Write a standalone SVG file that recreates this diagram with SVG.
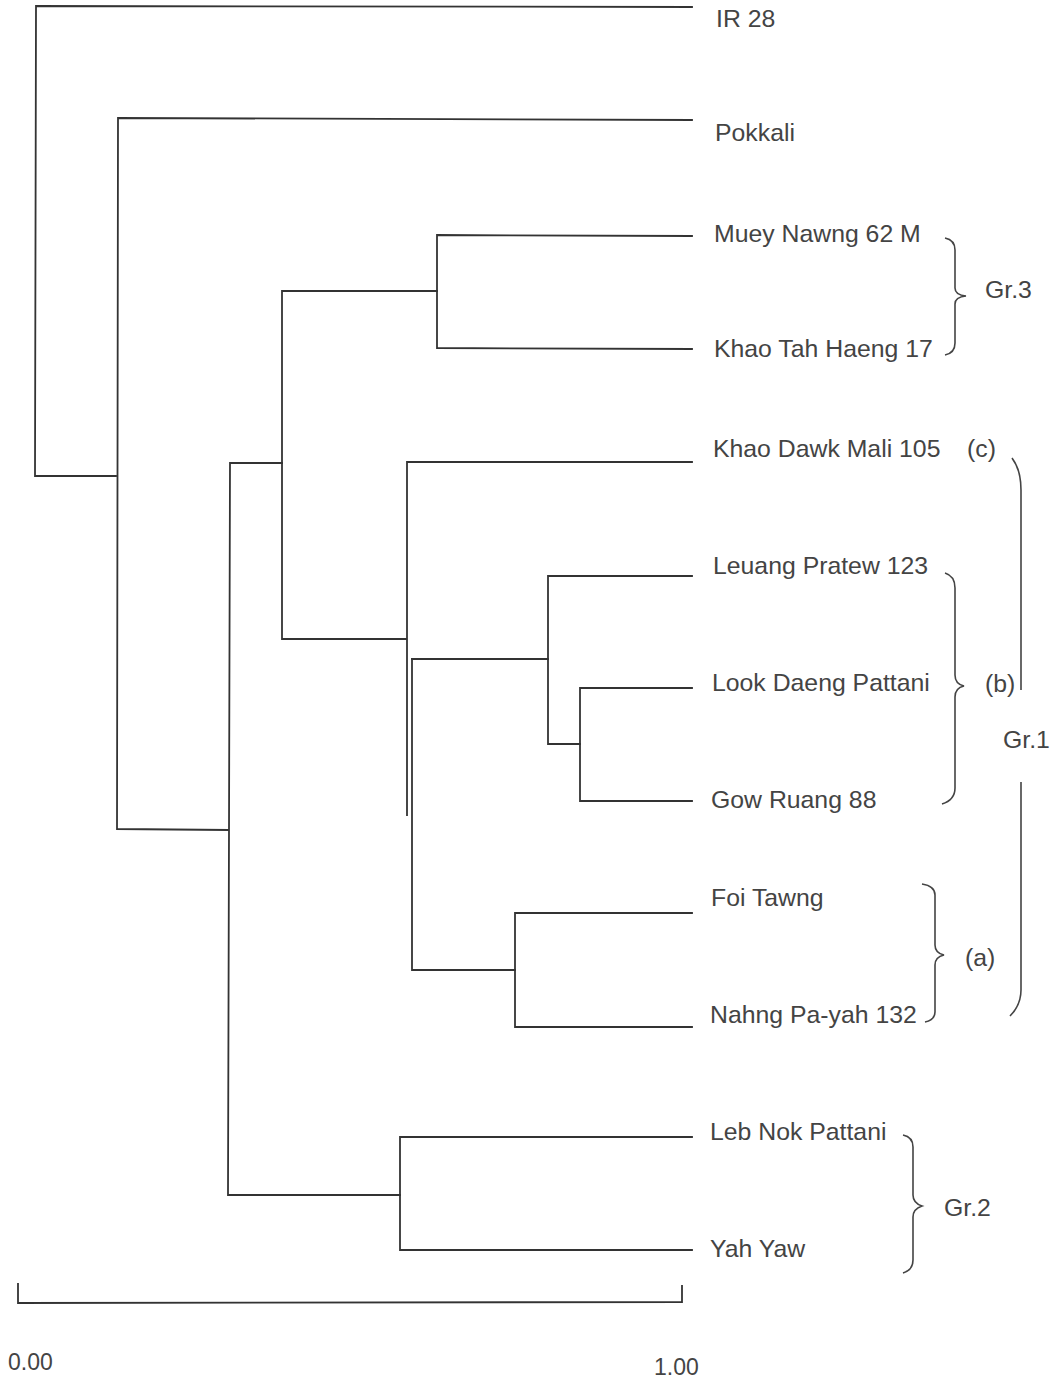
<svg xmlns="http://www.w3.org/2000/svg" width="1059" height="1381" viewBox="0 0 1059 1381">
<style>
.ln{fill:none;stroke:#333;stroke-width:1.8;stroke-linecap:square}
.br{fill:none;stroke:#444;stroke-width:1.6}
text{font-family:"Liberation Sans",Arial,sans-serif;font-size:24.8px;fill:#444}
.sc{font-size:23px}
</style>
<rect width="1059" height="1381" fill="#fff"/>
<g id="connectors">
<path class="ln" d="M692,7 L36,6 L35,476 L116,476"/>
<path class="ln" d="M692,120 L118,118 L117,829 L228,830"/>
<path class="ln" d="M692,236 L437,235 L437,348 L692,349"/>
<path class="ln" d="M437,291 L282,291 L282,639 L406,639"/>
<path class="ln" d="M282,463 L230,463 L228,1195 L400,1195"/>
<path class="ln" d="M692,462 L407,462 L407,815"/>
<path class="ln" d="M412,659 L548,659"/>
<path class="ln" d="M692,576 L548,576 L548,744 L580,744"/>
<path class="ln" d="M692,688 L580,688 L580,801 L692,801"/>
<path class="ln" d="M412,659 L412,970 L515,970"/>
<path class="ln" d="M692,913 L515,913 L515,1027 L692,1027"/>
<path class="ln" d="M692,1137 L400,1137 L400,1250 L692,1250"/>
<path class="ln" d="M18,1284 L18,1303 L682,1302 L682,1286"/>
</g>
<g id="braces">
<path class="br" d="M945,238 Q955,240 955,250 L955,288 Q955,295 966,296 Q955,297 955,304 L955,343 Q955,353 945,355"/>
<path class="br" d="M1012,458 Q1021,470 1021,490 L1021,690 M1021,782 L1021,990 Q1021,1005 1010,1016"/>
<path class="br" d="M945,573 Q955,576 955,588 L955,675 Q955,684 964,686 Q955,688 955,697 L955,788 Q955,800 942,804"/>
<path class="br" d="M922,884 Q935,886 935,895 L935,945 Q935,953 944,955 Q935,957 935,965 L935,1012 Q935,1020 925,1022"/>
<path class="br" d="M903,1135 Q913,1137 913,1147 L913,1195 Q913,1203 922,1206 Q913,1209 913,1217 L913,1260 Q913,1270 903,1273"/>
</g>
<g id="labels">
<text x="716" y="27">IR 28</text>
<text x="715" y="141">Pokkali</text>
<text x="714" y="242">Muey Nawng 62 M</text>
<text x="714" y="357">Khao Tah Haeng 17</text>
<text x="713" y="457">Khao Dawk Mali 105</text>
<text x="967" y="457">(c)</text>
<text x="713" y="574">Leuang Pratew 123</text>
<text x="712" y="691">Look Daeng Pattani</text>
<text x="711" y="808">Gow Ruang 88</text>
<text x="711" y="906">Foi Tawng</text>
<text x="710" y="1023">Nahng Pa-yah 132</text>
<text x="710" y="1140">Leb Nok Pattani</text>
<text x="710" y="1257">Yah Yaw</text>
<text x="985" y="298">Gr.3</text>
<text x="985" y="692">(b)</text>
<text x="1003" y="748">Gr.1</text>
<text x="965" y="966">(a)</text>
<text x="944" y="1216">Gr.2</text>
<text class="sc" x="8" y="1370">0.00</text>
<text class="sc" x="654" y="1375">1.00</text>
</g>
</svg>
